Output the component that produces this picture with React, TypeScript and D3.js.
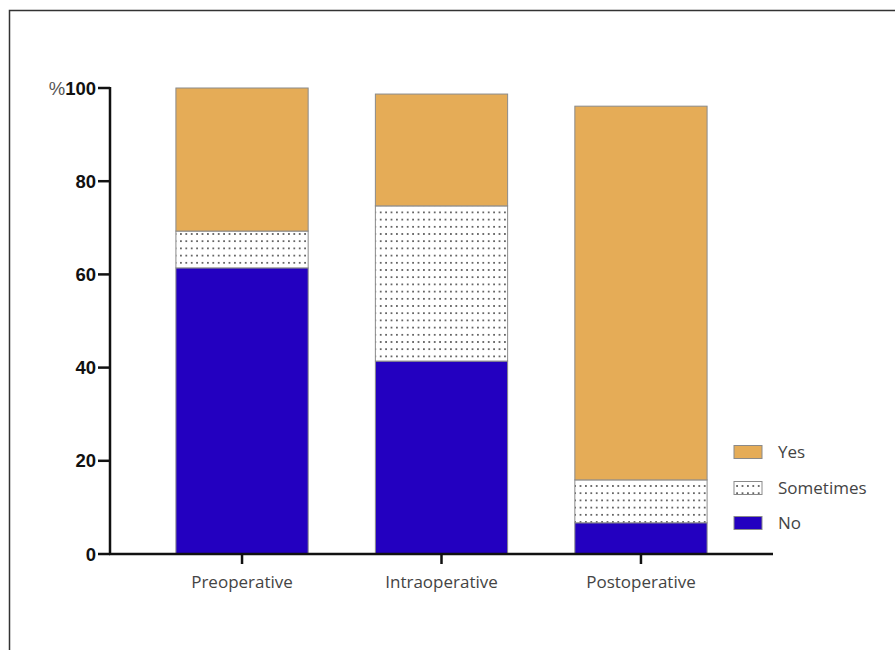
import React from "react";
import * as d3 from "d3";

const categories = ["Preoperative", "Intraoperative", "Postoperative"];
const seriesNames = ["No", "Sometimes", "Yes"];
const noValues = [61.4, 41.4, 6.7];
const sometimesValues = [7.9, 33.3, 9.2];
const yesValues = [30.7, 24.0, 80.2];
const yTicks = [0, 20, 40, 60, 80, 100];

const W = 895;
const H = 650;
const M = { left: 110, top: 88, bottom: 554, axisRight: 773 };

export default function App() {
  const y = d3.scaleLinear().domain([0, 100]).range([M.bottom, M.top]);
  const x = d3
    .scaleBand<string>()
    .domain(categories)
    .range([143, 740])
    .paddingInner(0.337)
    .paddingOuter(0.165);

  const rows = categories.map((c, i) => ({
    cat: c,
    No: noValues[i],
    Sometimes: sometimesValues[i],
    Yes: yesValues[i],
  }));
  const stack = d3.stack<any>().keys(seriesNames)(rows);

  const fills: Record<string, string> = {
    No: "#2300C0",
    Sometimes: "url(#dots)",
    Yes: "#E5AC57",
  };

  const legendItems = [
    { name: "Yes", y: 452 },
    { name: "Sometimes", y: 488 },
    { name: "No", y: 523 },
  ];

  return (
    <svg width={W} height={H} style={{ display: "block", position: "absolute", left: 0, top: 0 }}>
      <defs>
        <pattern id="dots" width={5.4} height={7.2} patternUnits="userSpaceOnUse">
          <rect width={5.4} height={7.2} fill="#ffffff" />
          <circle cx={2.7} cy={3.6} r={0.85} fill="#222" />
        </pattern>
      </defs>
      <rect x={0} y={0} width={W} height={H} fill="#fff" />
      {/* frame */}
      <path d={`M9.5,${H} V10.5 H${W}`} fill="none" stroke="#333" strokeWidth={1.5} />

      {/* bars */}
      {stack.map((s) =>
        s.map((d, i) => (
          <rect
            key={s.key + i}
            x={x(categories[i])}
            width={x.bandwidth()}
            y={y(d[1])}
            height={y(d[0]) - y(d[1])}
            fill={fills[s.key]}
            stroke="#8a8a8a"
            strokeWidth={1}
          />
        ))
      )}

      {/* y axis */}
      <line x1={M.left} x2={M.left} y1={M.top - 1} y2={M.bottom} stroke="#111" strokeWidth={2.5} />
      {yTicks.map((t) => (
        <g key={t}>
          <line x1={98} x2={M.left} y1={y(t)} y2={y(t)} stroke="#111" strokeWidth={2.5} />
          <text
            x={96}
            y={y(t)}
            dy="0.36em"
            textAnchor="end"
            fontFamily="Liberation Sans, Arial, sans-serif"
            fontWeight="bold"
            fontSize={18.5}
            fill="#111"
          >
            {t === 100 ? (
              <>
                <tspan fontWeight="normal" fill="#555">%</tspan>
                100
              </>
            ) : (
              t
            )}
          </text>
        </g>
      ))}

      {/* x axis */}
      <line x1={M.left - 1} x2={M.axisRight} y1={M.bottom} y2={M.bottom} stroke="#111" strokeWidth={2.5} />
      {categories.map((c) => {
        const cx = (x(c) as number) + x.bandwidth() / 2;
        return (
          <g key={c}>
            <line x1={cx} x2={cx} y1={M.bottom} y2={M.bottom + 10} stroke="#111" strokeWidth={2.5} />
            <text
              x={cx}
              y={588}
              textAnchor="middle"
              fontFamily="Open Sans, sans-serif"
              fontSize={17}
              fill="#444"
            >
              {c}
            </text>
          </g>
        );
      })}

      {/* legend */}
      {legendItems.map((l) => (
        <g key={l.name}>
          <rect
            x={734}
            y={l.y - 6.5}
            width={28}
            height={13}
            fill={fills[l.name]}
            stroke="#8a8a8a"
            strokeWidth={1}
          />
          <text
            x={778}
            y={l.y}
            dy="0.36em"
            fontFamily="Open Sans, sans-serif"
            fontSize={17}
            fill="#444"
          >
            {l.name}
          </text>
        </g>
      ))}
    </svg>
  );
}
